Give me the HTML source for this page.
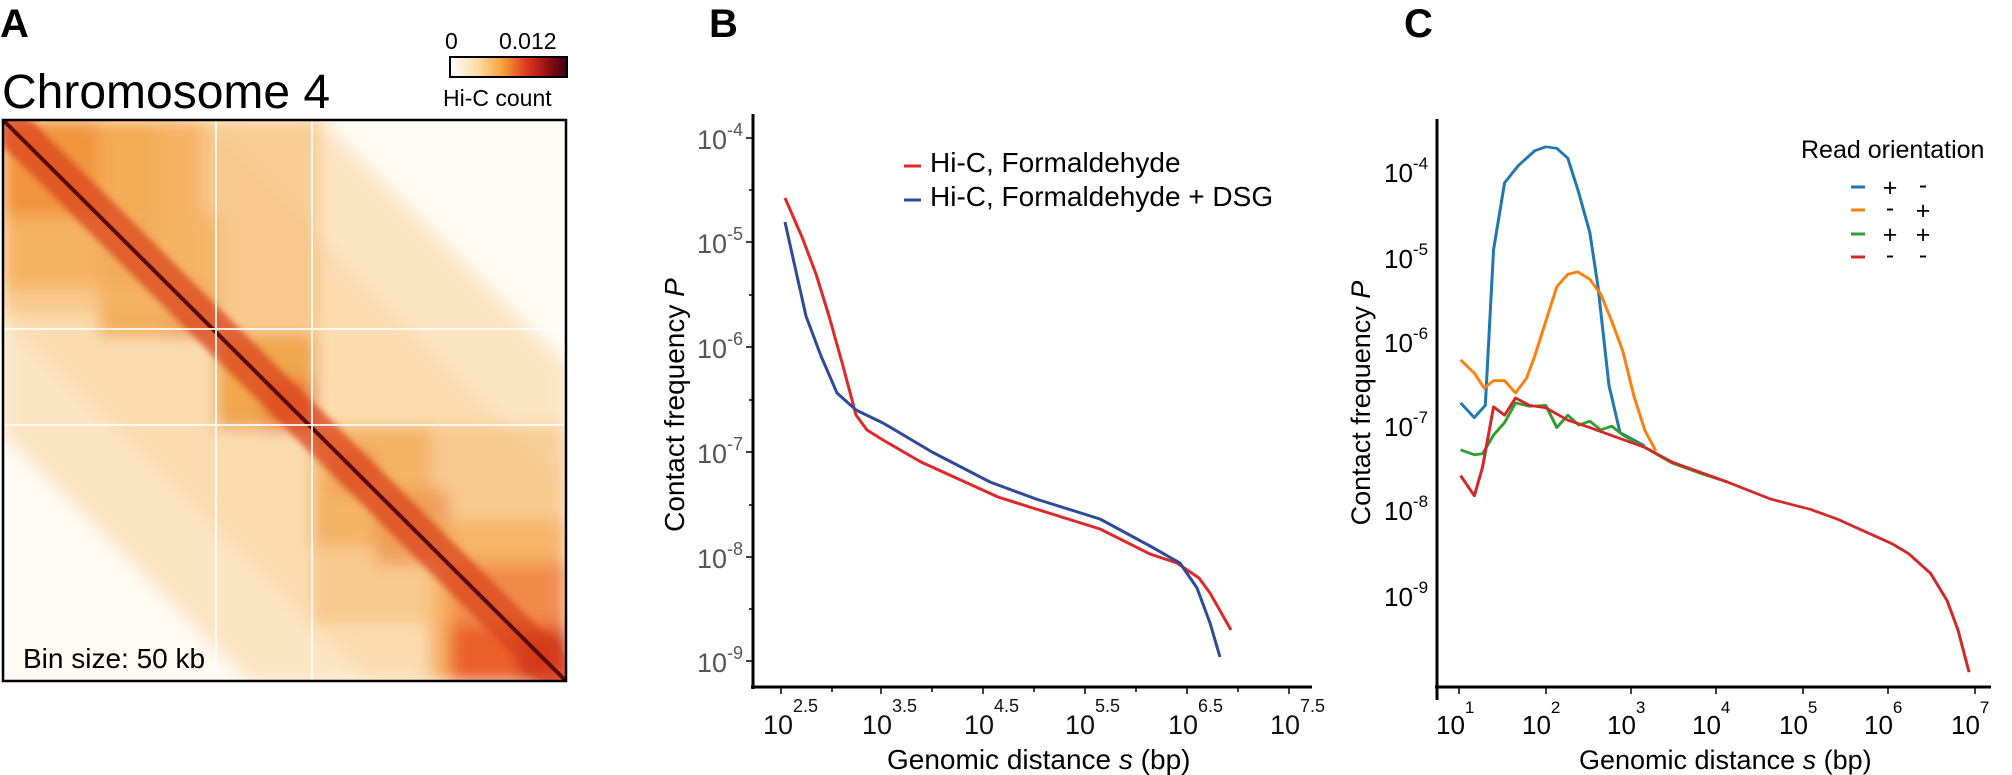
<!DOCTYPE html>
<html><head><meta charset="utf-8"><style>
html,body{margin:0;padding:0;background:#fff}
svg{display:block}
text{font-family:"Liberation Sans",Arial,sans-serif}
</style></head><body>
<svg width="2012" height="775" viewBox="0 0 2012 775" xmlns="http://www.w3.org/2000/svg">
<defs>
<linearGradient id="cb" x1="0" x2="1" y1="0" y2="0">
<stop offset="0" stop-color="#fff"/><stop offset="0.25" stop-color="#fcd9a0"/><stop offset="0.45" stop-color="#f4a236"/><stop offset="0.65" stop-color="#e03a1e"/><stop offset="0.85" stop-color="#8c0c12"/><stop offset="1" stop-color="#3a0608"/>
</linearGradient>
<filter id="bl" x="-10%" y="-10%" width="120%" height="120%"><feGaussianBlur stdDeviation="8"/></filter>
<filter id="bl2"><feGaussianBlur stdDeviation="3"/></filter>
<clipPath id="hm"><rect x="4" y="121" width="561" height="559"/></clipPath>
</defs>

<!-- Panel A -->
<text x="0" y="37" font-size="40" font-weight="bold">A</text>
<text x="2" y="108" font-size="48">Chromosome 4</text>
<text x="445" y="49" font-size="23">0</text>
<text x="499" y="49" font-size="23">0.012</text>
<rect x="450" y="57" width="117" height="20" fill="url(#cb)" stroke="#000" stroke-width="2"/>
<text x="443" y="106" font-size="23">Hi-C count</text>

<g clip-path="url(#hm)">
<rect x="2" y="119" width="565" height="563" fill="#fffaf3"/>
<g filter="url(#bl)">
 <polygon points="2,119 200,119 567,486 567,682 370,682 2,315" fill="#f9cc8c" opacity="0.95"/>
 <polygon points="2,119 320,119 567,366 567,682 250,682 2,432" fill="#fbe0b8" opacity="0.8"/>
 <rect x="2" y="119" width="97" height="97" fill="#e8501c" opacity="0.85"/>
 <rect x="2" y="119" width="200" height="170" fill="#f2a040" opacity="0.8"/>
 <rect x="99" y="216" width="120" height="120" fill="#f0a040" opacity="0.8"/>
 <rect x="165" y="285" width="50" height="50" fill="#e87a2a" opacity="0.7"/>
 <rect x="216" y="333" width="100" height="96" fill="#ef9c3a" opacity="0.85"/>
 <rect x="265" y="380" width="50" height="50" fill="#e86a28" opacity="0.7"/>
 <rect x="312" y="427" width="120" height="120" fill="#f0a040" opacity="0.75"/>
 <rect x="335" y="452" width="40" height="40" fill="#e05a20" opacity="0.7"/>
 <rect x="375" y="490" width="75" height="75" fill="#e86a28" opacity="0.7"/>
 <rect x="430" y="520" width="137" height="162" fill="#f2a040" opacity="0.7"/>
 <rect x="450" y="563" width="117" height="119" fill="#e84a1c" opacity="0.8"/>
 <rect x="520" y="633" width="47" height="49" fill="#c0200e" opacity="0.8"/>
 <rect x="160" y="119" width="160" height="210" fill="#f5b870" opacity="0.55"/>
 <rect x="312" y="425" width="255" height="200" fill="#f5b870" opacity="0.5"/>
 <rect x="2" y="216" width="214" height="100" fill="#f6b870" opacity="0.5"/>
</g>
<g filter="url(#bl2)">
 <polygon points="2,109 30,119 567,656 567,692 540,682 2,145" fill="#d8401c" opacity="0.7"/>
</g>
<line x1="2" y1="119" x2="567" y2="682" stroke="#5a0a0a" stroke-width="4"/>
<line x1="216" y1="119" x2="216" y2="682" stroke="#fff" stroke-width="2" opacity="0.85"/>
<line x1="312" y1="119" x2="312" y2="682" stroke="#fff" stroke-width="2" opacity="0.85"/>
<line x1="2" y1="329" x2="567" y2="329" stroke="#fff" stroke-width="2" opacity="0.85"/>
<line x1="2" y1="425" x2="567" y2="425" stroke="#fff" stroke-width="2" opacity="0.85"/>
</g>
<rect x="3" y="120" width="563" height="561" fill="none" stroke="#000" stroke-width="2.5"/>
<text x="23" y="668" font-size="28">Bin size: 50 kb</text>

<!-- Panel B -->
<text x="709" y="37" font-size="40" font-weight="bold">B</text>
<g stroke="#000" stroke-width="3" fill="none">
<line x1="753" y1="114" x2="753" y2="689"/>
<line x1="751" y1="687" x2="1312" y2="687"/>
</g>
<g stroke="#000" stroke-width="1.5">
<line x1="746" y1="138" x2="753" y2="138"/><line x1="746" y1="242" x2="753" y2="242"/><line x1="746" y1="347" x2="753" y2="347"/><line x1="746" y1="452" x2="753" y2="452"/><line x1="746" y1="557" x2="753" y2="557"/><line x1="746" y1="661" x2="753" y2="661"/>
<line x1="749" y1="190" x2="753" y2="190"/><line x1="749" y1="295" x2="753" y2="295"/><line x1="749" y1="400" x2="753" y2="400"/><line x1="749" y1="505" x2="753" y2="505"/><line x1="749" y1="609" x2="753" y2="609"/>
<line x1="781" y1="687" x2="781" y2="694"/><line x1="832" y1="687" x2="832" y2="692"/><line x1="881" y1="687" x2="881" y2="694"/><line x1="932" y1="687" x2="932" y2="692"/><line x1="983" y1="687" x2="983" y2="694"/><line x1="1034" y1="687" x2="1034" y2="692"/><line x1="1085" y1="687" x2="1085" y2="694"/><line x1="1136" y1="687" x2="1136" y2="692"/><line x1="1187" y1="687" x2="1187" y2="694"/><line x1="1238" y1="687" x2="1238" y2="692"/><line x1="1289" y1="687" x2="1289" y2="694"/>
</g>
<g font-size="27" fill="#555">
<text x="697" y="149">10<tspan font-size="18" dy="-13">-4</tspan></text>
<text x="697" y="253">10<tspan font-size="18" dy="-13">-5</tspan></text>
<text x="697" y="358">10<tspan font-size="18" dy="-13">-6</tspan></text>
<text x="697" y="463">10<tspan font-size="18" dy="-13">-7</tspan></text>
<text x="697" y="568">10<tspan font-size="18" dy="-13">-8</tspan></text>
<text x="697" y="672">10<tspan font-size="18" dy="-13">-9</tspan></text>
</g>
<g font-size="27" fill="#111">
<text x="763" y="734">10<tspan font-size="18" dy="-22">2.5</tspan></text>
<text x="862" y="734">10<tspan font-size="18" dy="-22">3.5</tspan></text>
<text x="964" y="734">10<tspan font-size="18" dy="-22">4.5</tspan></text>
<text x="1065" y="734">10<tspan font-size="18" dy="-22">5.5</tspan></text>
<text x="1168" y="734">10<tspan font-size="18" dy="-22">6.5</tspan></text>
<text x="1270" y="734">10<tspan font-size="18" dy="-22">7.5</tspan></text>
</g>
<text x="887" y="769" font-size="28">Genomic distance <tspan font-style="italic">s</tspan> (bp)</text>
<text transform="translate(684,405) rotate(-90)" text-anchor="middle" font-size="28">Contact frequency <tspan font-style="italic">P</tspan></text>
<line x1="904" y1="166" x2="921" y2="166" stroke="#e02828" stroke-width="3"/>
<line x1="904" y1="200" x2="921" y2="200" stroke="#2d4a9c" stroke-width="3"/>
<text x="930" y="172" font-size="28">Hi-C, Formaldehyde</text>
<text x="930" y="206" font-size="28">Hi-C, Formaldehyde + DSG</text>
<polyline fill="none" stroke="#e02828" stroke-width="3" stroke-linejoin="round" points="785,198 802,237 816,274 829,316 843,366 856,415 867,430 883,440 921,462 998,497 1036,509 1100,529 1150,554 1177,563 1199,578 1210,593 1231,630"/>
<polyline fill="none" stroke="#2d4a9c" stroke-width="3" stroke-linejoin="round" points="785,222 795,267 806,316 821,356 837,393 856,410 883,423 932,452 990,482 1036,499 1100,519 1150,546 1180,563 1197,588 1210,623 1220,657"/>

<!-- Panel C -->
<text x="1404" y="37" font-size="40" font-weight="bold">C</text>
<g stroke="#000" stroke-width="3" fill="none">
<line x1="1437" y1="119" x2="1437" y2="700"/>
<line x1="1435" y1="687" x2="1991" y2="687"/>
</g>
<g stroke="#000" stroke-width="1.5">
<line x1="1459" y1="687" x2="1459" y2="694"/><line x1="1546" y1="687" x2="1546" y2="694"/><line x1="1631" y1="687" x2="1631" y2="694"/><line x1="1716" y1="687" x2="1716" y2="694"/><line x1="1803" y1="687" x2="1803" y2="694"/><line x1="1888" y1="687" x2="1888" y2="694"/><line x1="1975" y1="687" x2="1975" y2="694"/>
</g>
<g font-size="26" fill="#000">
<text x="1384" y="182">10<tspan font-size="17" dy="-13">-4</tspan></text>
<text x="1384" y="268">10<tspan font-size="17" dy="-13">-5</tspan></text>
<text x="1384" y="352">10<tspan font-size="17" dy="-13">-6</tspan></text>
<text x="1384" y="436">10<tspan font-size="17" dy="-13">-7</tspan></text>
<text x="1384" y="520">10<tspan font-size="17" dy="-13">-8</tspan></text>
<text x="1384" y="606">10<tspan font-size="17" dy="-13">-9</tspan></text>
<text x="1436" y="734">10<tspan font-size="17" dy="-21">1</tspan></text>
<text x="1522" y="734">10<tspan font-size="17" dy="-21">2</tspan></text>
<text x="1607" y="734">10<tspan font-size="17" dy="-21">3</tspan></text>
<text x="1692" y="734">10<tspan font-size="17" dy="-21">4</tspan></text>
<text x="1779" y="734">10<tspan font-size="17" dy="-21">5</tspan></text>
<text x="1864" y="734">10<tspan font-size="17" dy="-21">6</tspan></text>
<text x="1951" y="734">10<tspan font-size="17" dy="-21">7</tspan></text>
</g>
<text x="1579" y="769" font-size="27">Genomic distance <tspan font-style="italic">s</tspan> (bp)</text>
<text transform="translate(1370,403) rotate(-90)" text-anchor="middle" font-size="27">Contact frequency <tspan font-style="italic">P</tspan></text>
<text x="1801" y="158" font-size="25">Read orientation</text>
<g stroke-width="3">
<line x1="1851" y1="187" x2="1865" y2="187" stroke="#1f77b4"/>
<line x1="1851" y1="210" x2="1865" y2="210" stroke="#ff7f0e"/>
<line x1="1851" y1="234" x2="1865" y2="234" stroke="#2ca02c"/>
<line x1="1851" y1="257" x2="1865" y2="257" stroke="#d62728"/>
</g>
<g font-size="25" text-anchor="middle">
<text x="1890" y="196">+</text><text x="1923" y="193">-</text>
<text x="1890" y="216">-</text><text x="1923" y="219">+</text>
<text x="1890" y="243">+</text><text x="1923" y="243">+</text>
<text x="1890" y="263">-</text><text x="1923" y="263">-</text>
</g>
<g transform="translate(1150,0) scale(0.5497,0.4943)" fill="none" stroke-linejoin="round">
<polyline stroke="#1f77b4" stroke-width="5.5" points="565,815 590,845 610,820 625,505 645,370 670,335 700,305 720,297 740,300 760,320 780,390 800,470 815,580 835,780 855,875 900,902"/>
<polyline stroke="#ff7f0e" stroke-width="5.5" points="565,728 590,755 608,785 625,770 645,770 665,795 685,765 700,720 720,650 740,580 760,555 778,550 800,565 820,595 840,650 860,710 880,800 900,870 920,912"/>
<polyline stroke="#2ca02c" stroke-width="5.5" points="565,910 590,920 605,918 625,880 645,855 665,815 690,822 720,820 740,865 760,840 780,860 800,852 820,870 840,862 860,880 900,905 950,937 1000,957 1050,975 1100,997"/>
<polyline stroke="#d62728" stroke-width="5.5" points="565,962 590,1003 605,945 625,823 645,840 665,805 690,820 720,825 760,850 800,865 850,885 900,905 950,935 1000,955 1050,975 1100,997 1130,1010 1200,1030 1250,1050 1300,1075 1350,1100 1380,1120 1420,1160 1450,1215 1470,1275 1490,1360"/>
</g>
</svg>
</body></html>
